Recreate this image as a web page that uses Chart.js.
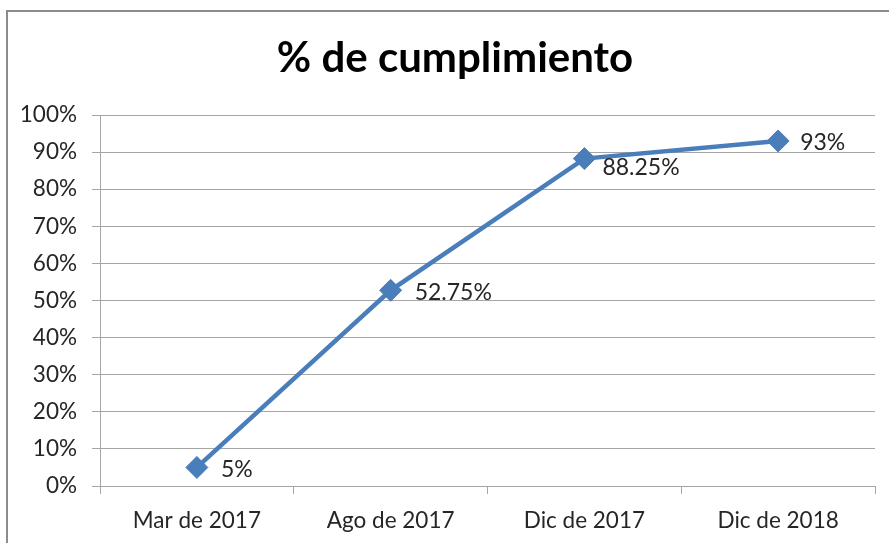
<!DOCTYPE html>
<html><head><meta charset="utf-8">
<script src="https://cdn.jsdelivr.net/npm/chart.js@4/dist/chart.umd.min.js"></script>
<style>html,body{margin:0;padding:0;background:#fff;}#wrap{width:889px;height:543px;position:relative;}</style>
</head><body><div id="wrap"><canvas id="c" width="889" height="543"></canvas></div>
<script>
const categories = ["Mar de 2017", "Ago de 2017", "Dic de 2017", "Dic de 2018"];
const values = [5, 52.75, 88.25, 93];
const valueLabels = ["5%", "52.75%", "88.25%", "93%"];
const titleText = "% de cumplimiento";
const FONT = "Lato, 'Liberation Sans', sans-serif";
// label placement style (pixel nudges relative to each point)
const labelNudge = [[24, 2], [24, 2], [18, 9], [22, 2]];

const framePlugin = {
  id: 'frame',
  beforeDraw(chart) {
    const ctx = chart.ctx;
    ctx.save();
    ctx.fillStyle = '#fff';
    ctx.fillRect(0, 0, chart.width, chart.height);
    ctx.strokeStyle = '#8c8c8c';
    ctx.lineWidth = 2;
    ctx.strokeRect(7, 11, 1000, 1000);
    ctx.fillStyle = '#000';
    ctx.font = "bold 42px " + FONT;
    ctx.textAlign = 'center';
    ctx.textBaseline = 'alphabetic';
    ctx.fillText(titleText, 455, 72);
    ctx.restore();
  }
};
const labelPlugin = {
  id: 'vlabels',
  afterDatasetsDraw(chart) {
    const ctx = chart.ctx;
    const meta = chart.getDatasetMeta(0);
    ctx.save();
    ctx.fillStyle = '#262626';
    ctx.font = "23px " + FONT;
    ctx.textAlign = 'left';
    ctx.textBaseline = 'middle';
    meta.data.forEach((p, i) => {
      ctx.fillText(valueLabels[i], p.x + labelNudge[i][0], p.y + labelNudge[i][1]);
    });
    ctx.restore();
  }
};

new Chart(document.getElementById('c'), {
  type: 'line',
  data: {
    labels: categories,
    datasets: [{
      data: values,
      borderColor: '#4a7ebb',
      backgroundColor: '#4a7ebb',
      borderWidth: 4.5,
      pointStyle: 'rectRot',
      pointRadius: 11,
      pointHoverRadius: 11,
      pointBorderWidth: 1,
      tension: 0
    }]
  },
  options: {
    responsive: false,
    animation: false,
    events: [],
    layout: { padding: { top: 115, right: 14, left: 0, bottom: 0 } },
    plugins: { legend: { display: false }, title: { display: false }, tooltip: { enabled: false } },
    scales: {
      x: {
        offset: true,
        grid: { offset: true, drawOnChartArea: false, drawTicks: true, tickLength: 8, color: '#a6a6a6' },
        border: { color: '#a6a6a6', width: 1 },
        ticks: { color: '#262626', font: { family: FONT, size: 22.5 }, padding: 13, maxRotation: 0 },
        afterFit(s) { s.height = 57; }
      },
      y: {
        min: 0, max: 100,
        ticks: { stepSize: 10, color: '#262626', font: { family: FONT, size: 22.5 }, padding: 15, callback: v => v + '%' },
        grid: { color: '#a6a6a6', tickLength: 8 },
        border: { color: '#a6a6a6', width: 1 },
        afterFit(s) { s.width = 100; }
      }
    }
  },
  plugins: [framePlugin, labelPlugin]
});
</script></body></html>
